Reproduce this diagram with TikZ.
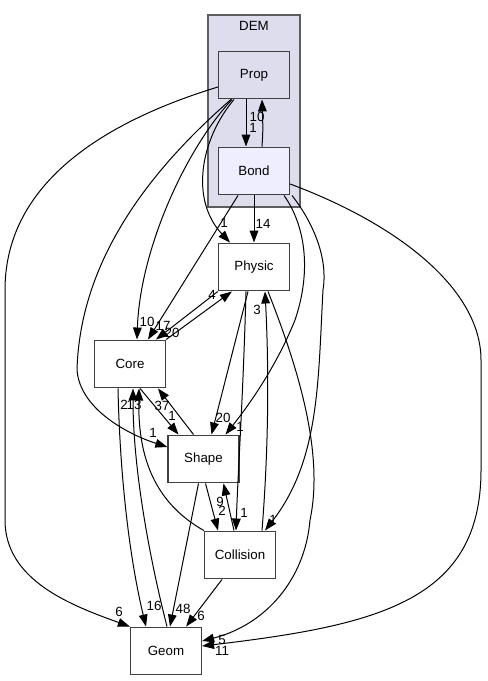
\documentclass[tikz,border=0pt]{standalone}
\usepackage{fontspec}
\setmainfont{Liberation Sans}
\usetikzlibrary{arrows.meta,calc}
\definecolor{clfill}{HTML}{DDDDEE}
\definecolor{bondfill}{HTML}{EEEEFF}
\definecolor{bord}{HTML}{404040}
\tikzset{
  dirbox/.style={draw=bord,line width=1.2pt,minimum width=53pt,minimum height=35.5pt,inner sep=0pt,font=\fontsize{10pt}{12pt}\selectfont},
  dep/.style={line width=0.75pt,-{Triangle[length=9pt,width=6.5pt]}},
  lbl/.style={inner sep=0pt,font=\fontsize{10pt}{12pt}\selectfont}
}
\begin{document}
\begin{tikzpicture}[x=0.75pt,y=-0.75pt]
\useasboundingbox (0,0) rectangle (487,681);
% cluster
\node[draw=bord!85,fill=clfill,line width=1.2pt,minimum width=69pt,minimum height=144pt,inner sep=0pt] (DEMc) at (254,111) {};
\node[lbl] (DEMl) at (254,26) {DEM};
% nodes
\node[dirbox,fill=clfill] (Prop) at (254,75) {Prop};
\node[dirbox,fill=bondfill] (Bond) at (254,171) {Bond};
\node[dirbox,fill=white] (Physic) at (254,267) {Physic};
\node[dirbox,fill=white] (Core) at (130,364) {Core};
\node[dirbox,fill=white] (Shape) at (203.5,459) {Shape};
\node[dirbox,fill=white] (Collision) at (240,555) {Collision};
\node[dirbox,fill=white] (Geom) at (166,651) {Geom};
% edges
\draw[dep] ($(Prop.south)+(-8,0)$) -- ($(Bond.north)+(-8,0)$);
\draw[dep] ($(Bond.north)+(8,0)$) .. controls (263,130) .. ($(Prop.south)+(8,0)$);
\draw[dep] ($(Prop.west)+(0,12)$) .. controls (110,120) and (5,180) .. (5,290) -- (5,520) .. controls (5,580) and (70,605) .. (Geom.north west);
\draw[dep] ($(Prop.south)+(-22,0)$) .. controls (185,150) and (140,250) .. ($(Core.north)+(7,0)$);
\draw[dep] ($(Prop.south)+(-23,0)$) .. controls (150,170) and (80,260) .. (77,370) .. controls (80,410) and (130,435) .. ($(Shape.west)+(0,-12)$);
\draw[dep] ($(Prop.south)+(-20,0)$) .. controls (200,140) and (190,200) .. ($(Physic.north)+(-24,0)$);
\draw[dep] ($(Bond.south)+(-16,0)$) -- ($(Core.north)+(18,0)$);
\draw[dep] (Bond.south) -- (Physic.north);
\draw[dep] ($(Bond.south)+(30,0)$) .. controls (305,225) and (312,270) .. (295,320) .. controls (275,370) and (245,410) .. ($(Shape.north)+(22,0)$);
\draw[dep] ($(Bond.south)+(38,0)$) .. controls (315,225) and (328,260) .. (323,290) .. controls (318,380) and (320,460) .. ($(Collision.north)+(25,0)$);
\draw[dep] ($(Bond.east)+(0,13)$) .. controls (400,225) and (481,290) .. (481,360) -- (481,470) .. controls (481,600) and (380,625) .. ($(Geom.east)+(0,-5)$);
\draw[dep] ($(Physic.south)+(-6,0)$) -- ($(Shape.north)+(8,0)$);
\draw[dep] ($(Physic.south)+(-8,0)$) .. controls (243,400) and (238,470) .. ($(Collision.north)+(-4,0)$);
\draw[dep] ($(Collision.north)+(22,0)$) .. controls (270,430) and (268,350) .. ($(Physic.south)+(11,0)$);
\draw[dep] ($(Physic.south)+(14,0)$) .. controls (295,360) and (325,450) .. (310,520) .. controls (305,580) and (265,625) .. ($(Geom.east)+(0,-10)$);
\draw[dep] (Core.north east) -- ($(Physic.south west)+(14,0)$);
\draw[dep] (Physic.south west) -- ($(Core.north)+(26,0)$);
\draw[dep] ($(Core.south)+(10,0)$) -- ($(Shape.north)+(-25,0)$);
\draw[dep] ($(Shape.north)+(-10,0)$) -- ($(Core.south)+(28,0)$);
\draw[dep] ($(Core.south)+(-12,0)$) .. controls (120,480) and (130,560) .. ($(Geom.north)+(-20,0)$);
\draw[dep] ($(Geom.north)+(1,0)$) .. controls (150,560) and (133,470) .. ($(Core.south)+(3,0)$);
\draw[dep] (Collision.north west) .. controls (150,500) and (138,450) .. ($(Core.south)+(9,0)$);
\draw[dep] ($(Shape.south)+(-5,0)$) -- ($(Geom.north)+(4,0)$);
\draw[dep] ($(Collision.south)+(-18,0)$) -- ($(Geom.north east)+(-16,0)$);
\draw[dep] ($(Shape.south)+(2,0)$) -- ($(Collision.north)+(-22,0)$);
\draw[dep] ($(Collision.north)+(-6,0)$) -- ($(Shape.south)+(20,0)$);
% labels
\node[lbl] (L1) at (253,128) {1};
\node[lbl] (L2) at (257,117) {10};
\node[lbl] (L3) at (119,612) {6};
\node[lbl] (L4) at (147,322) {10};
\node[lbl] (L5) at (153,433) {1};
\node[lbl] (L6) at (224,223) {1};
\node[lbl] (L7) at (163,326) {17};
\node[lbl] (L8) at (263,224) {14};
\node[lbl] (L9) at (240,427) {1};
\node[lbl] (L10) at (273,520) {1};
\node[lbl] (L11) at (222,651) {11};
\node[lbl] (L12) at (223,418) {20};
\node[lbl] (L13) at (244,513) {1};
\node[lbl] (L14) at (222,640) {5};
\node[lbl] (L15) at (257,310) {3};
\node[lbl] (L16) at (212,295) {4};
\node[lbl] (L17) at (172,333) {20};
\node[lbl] (L18) at (172,416) {1};
\node[lbl] (L19) at (162,406) {37};
\node[lbl] (L20) at (154,606) {16};
\node[lbl] (L21) at (124,405) {2};
\node[lbl] (L22) at (134,405) {13};
\node[lbl] (L23) at (183,609) {48};
\node[lbl] (L24) at (201,616) {6};
\node[lbl] (L25) at (222,511) {2};
\node[lbl] (L26) at (220,502) {9};
\end{tikzpicture}
\end{document}
